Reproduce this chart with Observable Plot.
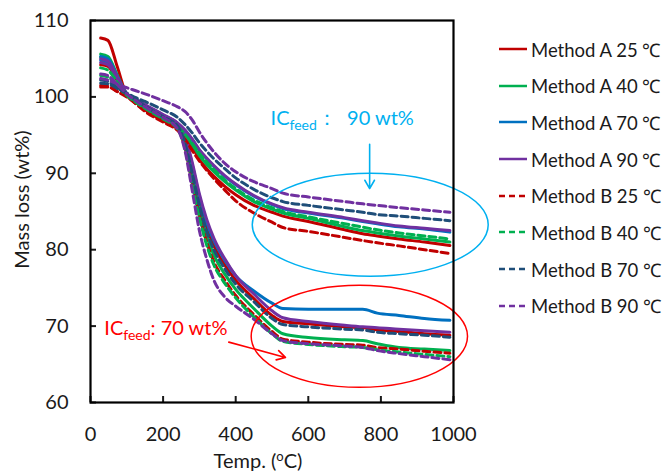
<!DOCTYPE html>
<html><head><meta charset="utf-8">
<script src="https://cdn.jsdelivr.net/npm/d3@7"></script>
<script src="https://cdn.jsdelivr.net/npm/@observablehq/plot@0.6"></script>
<style>
body{margin:0;background:#fff;}
#wrap{position:relative;width:667px;height:472px;font-family:Lato,"Open Sans",sans-serif;color:#1a1a1a;}
#legend{position:absolute;left:0;top:0;}
.row{position:absolute;left:498px;white-space:nowrap;font-size:18.5px;display:flex;align-items:center;height:22px;}
.row svg{margin-right:3px;}
</style></head><body><div id="wrap"><div id="chart"></div><div id="legend"></div></div>
<script>
// ---- data ----
const temps = [28, 48, 74, 100, 125, 150, 200, 240, 260, 280, 300, 320, 340, 370, 400, 450, 500, 530, 600, 700, 750, 790, 850, 920, 990];

// IC feed 90 wt% group
const a25_90 = [107.7,107.4,103.9,100.2, 99.3, 98.3, 96.9, 95.8, 94.8, 93.5, 91.8, 90.6, 89.6, 88.3, 87.2, 85.8, 84.9, 84.4, 83.7, 82.6, 82.1, 81.8, 81.4, 81.0, 80.55];
const a40_90 = [105.6,105.3,102.8,100.3, 99.4, 98.5, 97.1, 96.0, 95.0, 93.8, 92.3, 91.2, 90.2, 88.9, 87.8, 86.3, 85.3, 84.8, 84.1, 83.0, 82.5, 82.2, 81.8, 81.4, 81.0];
const a70_90 = [104.8,104.5,102.5,100.4, 99.7, 98.9, 97.6, 96.5, 95.6, 94.4, 93.0, 91.9, 90.9, 89.6, 88.5, 87.0, 85.9, 85.4, 84.8, 84.1, 83.7, 83.4, 83.0, 82.7, 82.3];
const a90_90 = [105.0,104.7,102.6,100.4, 99.7, 99.0, 97.7, 96.6, 95.7, 94.5, 93.1, 92.0, 91.0, 89.7, 88.6, 87.1, 86.0, 85.5, 84.9, 84.2, 83.8, 83.5, 83.1, 82.8, 82.5];
const b25_90 = [101.3,101.3,100.7,100.1, 99.1, 98.1, 96.7, 95.6, 94.5, 93.0, 91.6, 90.4, 89.3, 87.8, 86.4, 84.8, 83.6, 82.9, 82.4, 81.6, 81.2, 80.9, 80.5, 80.0, 79.5];
const b40_90 = [103.8,103.5,101.9,100.3, 99.4, 98.6, 97.2, 96.1, 95.1, 93.9, 92.6, 91.5, 90.5, 89.1, 88.0, 86.5, 85.5, 85.0, 84.3, 83.4, 82.95,82.6, 82.2, 81.8, 81.4];
const b70_90 = [101.8,101.7,101.1,100.5, 99.9, 99.4, 98.3, 97.3, 96.4, 95.3, 94.0, 92.9, 91.9, 90.6, 89.4, 87.9, 86.8, 86.3, 85.8, 85.2, 84.9, 84.6, 84.4, 84.1, 83.8];
const b90_90 = [102.4,102.2,101.7,101.2,100.8,100.4, 99.5, 98.7, 98.1, 97.0, 95.4, 94.0, 92.8, 91.3, 90.2, 88.9, 88.0, 87.4, 86.9, 86.3, 86.0, 85.8, 85.5, 85.2, 84.9];

// IC feed 70 wt% group
const a25_70 = [104.2,104.0,102.1,100.2, 99.3, 98.4, 97.1, 96.2, 94.3, 90.5, 86.4, 83.0, 80.5, 78.0, 76.0, 73.6, 71.4, 70.6, 70.3, 69.9, 69.8, 69.5, 69.3, 69.0, 68.8];
const a40_70 = [105.2,104.9,102.6,100.3, 99.4, 98.5, 97.2, 96.0, 93.8, 89.5, 85.3, 81.8, 79.3, 76.8, 74.8, 72.3, 70.0, 69.0, 68.5, 68.2, 68.1, 67.7, 67.2, 67.0, 66.8];
const a70_70 = [105.3,105.0,102.7,100.4, 99.6, 98.8, 97.5, 96.5, 94.7, 91.2, 87.0, 83.6, 81.2, 78.6, 76.6, 74.6, 73.0, 72.3, 72.2, 72.2, 72.2, 71.7, 71.4, 71.0, 70.75];
const a90_70 = [104.5,104.2,102.3,100.4, 99.6, 98.9, 97.6, 96.5, 94.8, 91.5, 87.3, 84.0, 81.5, 78.8, 76.6, 74.2, 72.0, 71.1, 70.6, 70.1, 69.9, 69.8, 69.6, 69.4, 69.2];
const b25_70 = [101.5,101.4,100.7,100.0, 99.1, 98.2, 96.9, 95.8, 93.4, 88.8, 84.5, 81.0, 78.4, 76.0, 74.0, 71.5, 69.3, 68.3, 67.9, 67.6, 67.5, 67.2, 67.0, 66.7, 66.45];
const b40_70 = [102.8,102.6,101.4,100.2, 99.3, 98.5, 97.1, 95.8, 93.3, 88.6, 84.2, 80.6, 78.0, 75.6, 73.7, 71.2, 69.0, 68.0, 67.6, 67.3, 67.2, 66.9, 66.6, 66.3, 66.0];
const b70_70 = [102.2,102.0,101.2,100.4, 99.6, 98.8, 97.4, 96.2, 94.0, 90.0, 85.8, 82.4, 80.0, 77.5, 75.5, 73.2, 71.0, 70.2, 69.9, 69.6, 69.5, 69.2, 69.0, 68.8, 68.55];
const b90_70 = [103.0,102.8,101.6,100.4, 99.5, 98.7, 97.3, 95.8, 93.0, 87.8, 82.5, 78.8, 76.0, 73.8, 72.6, 70.9, 69.0, 68.1, 67.7, 67.4, 67.2, 66.8, 66.4, 66.0, 65.6];

const seriesNames = ["Method A 25 \u2103","Method A 40 \u2103","Method A 70 \u2103","Method A 90 \u2103",
                     "Method B 25 \u2103","Method B 40 \u2103","Method B 70 \u2103","Method B 90 \u2103"];
const seriesColors = ["#C00000","#00B050","#0070C0","#7030A0","#C00000","#00B050","#1F4E79","#7030A0"];
const seriesData90 = [a25_90,a40_90,a70_90,a90_90,b25_90,b40_90,b70_90,b90_90];
const seriesData70 = [a25_70,a40_70,a70_70,a90_70,b25_70,b40_70,b70_70,b90_70];

const xTicks = [0, 200, 400, 600, 800, 1000];
const yTicks = [60, 70, 80, 90, 100, 110];

// annotations (data units)
const noteTexts = ["ICfeed\uFF1A  90 wt%", "ICfeed: 70 wt%"];
const noteX = [496, 38];
const noteY = [97.2, 69.7];
const noteColors = ["#00B0F0", "#FF0000"];
const ellCx = [772, 742], ellCy = [83.2, 68.6], ellRx = [325, 298], ellRy = [6.74, 6.68];
const arrowX1 = [769, 381], arrowY1 = [93.8, 67.9], arrowX2 = [769, 537], arrowY2 = [88.0, 65.9];

// ---- build table ----
const rows = [];
seriesNames.forEach((name, i) => {
  [["90", seriesData90[i]], ["70", seriesData70[i]]].forEach(([g, vals]) => {
    vals.forEach((v, j) => rows.push({series: name, method: name.includes(" A ") ? "A" : "B", key: name + g, t: temps[j], m: v}));
  });
});
const rowsA = rows.filter(d => d.method === "A");
const rowsB = rows.filter(d => d.method === "B");
const notes = noteTexts.map((t, i) => ({t, x: noteX[i], y: noteY[i], c: noteColors[i]}));
const arrows = arrowX1.map((_, i) => ({x1: arrowX1[i], y1: arrowY1[i], x2: arrowX2[i], y2: arrowY2[i], c: noteColors[i]}));

function ellipseMark(i) {
  return (index, scales) => {
    const e = document.createElementNS("http://www.w3.org/2000/svg", "ellipse");
    const cx = scales.x(ellCx[i]), cy = scales.y(ellCy[i]);
    e.setAttribute("cx", cx); e.setAttribute("cy", cy);
    e.setAttribute("rx", Math.abs(scales.x(ellCx[i] + ellRx[i]) - cx));
    e.setAttribute("ry", Math.abs(scales.y(ellCy[i] + ellRy[i]) - cy));
    e.setAttribute("fill", "none"); e.setAttribute("stroke", noteColors[i]); e.setAttribute("stroke-width", 1.5);
    return e;
  };
}

const plot = Plot.plot({
  width: 667, height: 472,
  marginLeft: 90, marginRight: 214, marginTop: 20, marginBottom: 70,
  style: {fontFamily: "Lato, 'Open Sans', sans-serif", color: "#1a1a1a", background: "white", overflow: "visible"},
  x: {domain: [0, 1000]},
  y: {domain: [60, 110]},
  color: {domain: seriesNames, range: seriesColors},
  marks: [
    Plot.line(rowsA, {x: "t", y: "m", z: "key", stroke: "series", strokeWidth: 3, curve: "monotone-x"}),
    Plot.line(rowsB, {x: "t", y: "m", z: "key", stroke: "series", strokeWidth: 3, strokeDasharray: "7,4", curve: "monotone-x"}),
    ellipseMark(0), ellipseMark(1),
    Plot.arrow(arrows, {x1: "x1", y1: "y1", x2: "x2", y2: "y2", stroke: "c", strokeWidth: 1.6, headLength: 9}),
    Plot.text(notes, {x: "x", y: "y", text: "t", fill: "c", fontSize: 20, textAnchor: "start", lineAnchor: "middle"}),
    Plot.axisX({ticks: xTicks, tickFormat: d => String(d), tickSize: -6, tickPadding: 30, fontSize: 20, strokeWidth: 2, label: null}),
    Plot.axisY({ticks: yTicks, tickFormat: d => String(d), tickSize: -6, tickPadding: 28, fontSize: 20, strokeWidth: 2, label: null}),
    Plot.frame({stroke: "black", strokeWidth: 2.2}),
    Plot.text(["Mass loss (wt%)"], {frameAnchor: "left", rotate: -90, dx: -68, dy: -12, fontSize: 20, textAnchor: "middle", lineAnchor: "middle"}),
    Plot.text(["Temp. (oC)"], {frameAnchor: "bottom", dx: -14, dy: 59, fontSize: 20, textAnchor: "middle", lineAnchor: "middle"})
  ]
});
document.getElementById("chart").appendChild(plot);

// subscripts / superscripts as real text
const NS = "http://www.w3.org/2000/svg";
plot.querySelectorAll("text").forEach(t => {
  const s = t.textContent;
  if (s.startsWith("ICfeed")) {
    const rest = s.slice(6);
    t.textContent = "IC";
    const sub = document.createElementNS(NS, "tspan");
    sub.setAttribute("dy", "5"); sub.setAttribute("font-size", "14"); sub.textContent = "feed";
    const r = document.createElementNS(NS, "tspan");
    r.setAttribute("dy", "-5"); r.textContent = rest;
    t.appendChild(sub); t.appendChild(r);
  } else if (s === "Temp. (oC)") {
    t.textContent = "Temp. (";
    const sup = document.createElementNS(NS, "tspan");
    sup.setAttribute("dy", "-7"); sup.setAttribute("font-size", "13"); sup.textContent = "o";
    const r = document.createElementNS(NS, "tspan");
    r.setAttribute("dy", "7"); r.textContent = "C)";
    t.appendChild(sup); t.appendChild(r);
  }
});

// legend
const legendRowY = [49, 85.7, 122.4, 159, 195.7, 232.4, 269, 305.7];
const legend = document.getElementById("legend");
seriesNames.forEach((name, i) => {
  const row = document.createElement("div");
  row.className = "row";
  row.style.top = (legendRowY[i] - 11) + "px";
  const dash = i >= 4 ? 'stroke-dasharray="6,4"' : "";
  row.innerHTML = `<svg width="30" height="6"><line x1="1" y1="3" x2="29" y2="3" stroke="${seriesColors[i]}" stroke-width="2.5" ${dash}/></svg><span>${name}</span>`;
  legend.appendChild(row);
});
</script>
</body></html>
